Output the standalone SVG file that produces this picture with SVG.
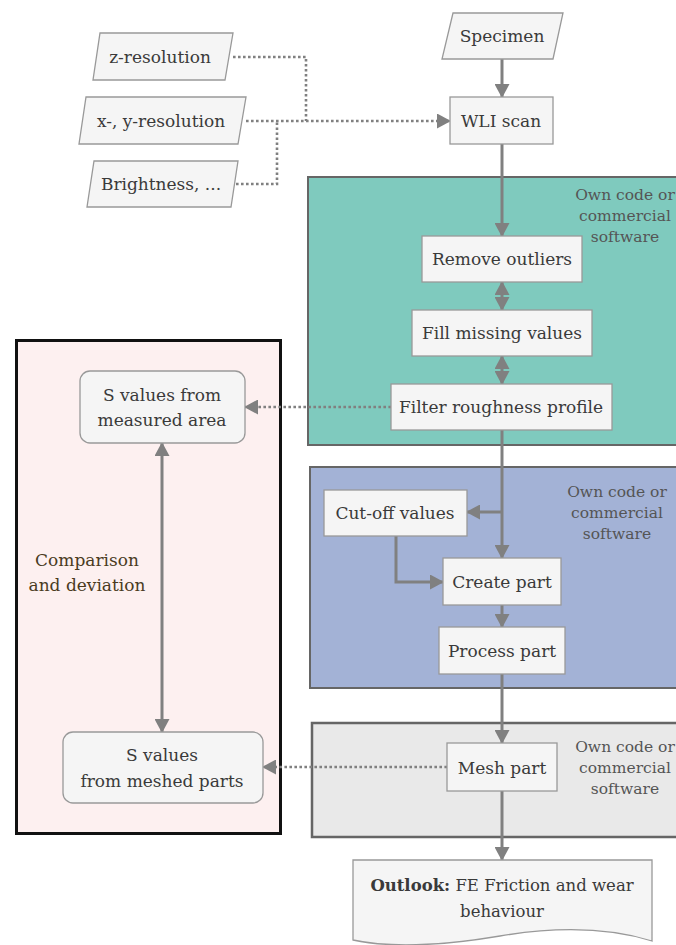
<svg xmlns="http://www.w3.org/2000/svg" width="676" height="945" viewBox="0 0 676 945">
<style>
text{font-family:'DejaVu Serif','Liberation Serif',serif;fill:#3a3a3a;text-anchor:middle}
.n{font-size:17px}
.note{font-size:15.5px;fill:#555}
.node{fill:#f5f5f5;stroke:#999;stroke-width:1.3}
.c{fill:none;stroke:#808080;stroke-width:3}
.d{fill:none;stroke:#808080;stroke-width:2.6;stroke-dasharray:2.6 2.4}
</style>
<defs>
<marker id="a" markerUnits="userSpaceOnUse" markerWidth="15" markerHeight="15" refX="13" refY="7.5" orient="auto-start-reverse" viewBox="0 0 15 15">
<path d="M0,0 L14,7.5 L0,15 z" fill="#808080"/>
</marker>
</defs>

<g id="panel-teal">
<rect x="308" y="177" width="372" height="268" fill="#7fcabe" stroke="#666" stroke-width="2"/>
<text class="note" x="625" y="200">Own code or</text>
<text class="note" x="625" y="221">commercial</text>
<text class="note" x="625" y="242">software</text>
</g>
<g id="panel-blue">
<rect x="310" y="467" width="370" height="221" fill="#a3b2d6" stroke="#666" stroke-width="2"/>
<text class="note" x="617" y="497">Own code or</text>
<text class="note" x="617" y="518">commercial</text>
<text class="note" x="617" y="539">software</text>
</g>
<g id="panel-gray">
<rect x="312" y="723" width="368" height="114" fill="#e9e9e9" stroke="#666" stroke-width="2.5"/>
<text class="note" x="625" y="752">Own code or</text>
<text class="note" x="625" y="773">commercial</text>
<text class="note" x="625" y="794">software</text>
</g>
<g id="panel-pink">
<rect x="16.5" y="340.5" width="264" height="493" fill="#fdf0f0" stroke="#111" stroke-width="3"/>
<text x="87" y="566" style="font-size:17px;fill:#4a3b1e">Comparison</text>
<text x="87" y="591" style="font-size:17px;fill:#4a3b1e">and deviation</text>
</g>

<g id="connectors">
<line class="c" x1="502" y1="59" x2="502" y2="97" marker-end="url(#a)"/>
<line class="c" x1="502" y1="144" x2="502" y2="236" marker-end="url(#a)"/>
<line class="c" x1="502" y1="282" x2="502" y2="310" marker-start="url(#a)" marker-end="url(#a)"/>
<line class="c" x1="502" y1="356" x2="502" y2="384" marker-start="url(#a)" marker-end="url(#a)"/>
<line class="c" x1="502" y1="430" x2="502" y2="558" marker-end="url(#a)"/>
<polyline class="c" points="502,512 467,512" marker-end="url(#a)"/>
<polyline class="c" points="396,536 396,582 443,582" marker-end="url(#a)"/>
<line class="c" x1="502" y1="605" x2="502" y2="627" marker-end="url(#a)"/>
<line class="c" x1="502" y1="674" x2="502" y2="743" marker-end="url(#a)"/>
<line class="c" x1="502" y1="791" x2="502" y2="860" marker-end="url(#a)"/>
<line class="c" x1="162" y1="443" x2="162" y2="732" marker-start="url(#a)" marker-end="url(#a)"/>
<polyline class="d" points="233,57 306,57 306,121"/>
<polyline class="d" points="231,184 277,184 277,121"/>
<line class="d" x1="246" y1="121" x2="450" y2="121" marker-end="url(#a)"/>
<line class="d" x1="391" y1="407" x2="245" y2="407" marker-end="url(#a)"/>
<line class="d" x1="447" y1="767" x2="263" y2="767" marker-end="url(#a)"/>
</g>

<g id="specimen">
<polygon class="node" points="453,13 563,13 553,59 442,59"/>
<text class="n" x="502" y="42">Specimen</text>
</g>
<g id="z-resolution">
<polygon class="node" points="100,33 233,33 225,80 93,80"/>
<text class="n" x="160" y="63">z-resolution</text>
</g>
<g id="xy-resolution">
<polygon class="node" points="86,97 246,97 238,144 79,144"/>
<text class="n" x="161" y="127">x-, y-resolution</text>
</g>
<g id="brightness">
<polygon class="node" points="94,161 238,161 231,207 87,207"/>
<text class="n" x="161" y="190">Brightness, ...</text>
</g>
<g id="wli-scan">
<rect class="node" x="450" y="97" width="103" height="47"/>
<text class="n" x="501" y="127">WLI scan</text>
</g>
<g id="remove-outliers">
<rect class="node" x="422" y="236" width="160" height="46"/>
<text class="n" x="502" y="265">Remove outliers</text>
</g>
<g id="fill-missing">
<rect class="node" x="412" y="310" width="180" height="46"/>
<text class="n" x="502" y="339">Fill missing values</text>
</g>
<g id="filter-roughness">
<rect class="node" x="391" y="384" width="221" height="46"/>
<text class="n" x="501" y="413">Filter roughness profile</text>
</g>
<g id="cut-off">
<rect class="node" x="324" y="490" width="143" height="46"/>
<text class="n" x="395" y="519">Cut-off values</text>
</g>
<g id="create-part">
<rect class="node" x="443" y="558" width="118" height="47"/>
<text class="n" x="502" y="588">Create part</text>
</g>
<g id="process-part">
<rect class="node" x="439" y="627" width="126" height="47"/>
<text class="n" x="502" y="657">Process part</text>
</g>
<g id="mesh-part">
<rect class="node" x="447" y="743" width="110" height="48"/>
<text class="n" x="502" y="774">Mesh part</text>
</g>
<g id="outlook">
<path class="node" d="M353,860 H652 V941 C610,928 560,926 500,936 C440,946 390,948 353,940 Z"/>
<text x="502" y="891" style="font-size:16.5px"><tspan font-weight="bold">Outlook:</tspan> FE Friction and wear</text>
<text x="502" y="917" style="font-size:16.5px">behaviour</text>
</g>
<g id="s-measured">
<rect class="node" x="80" y="371" width="165" height="72" rx="10"/>
<text class="n" x="162" y="401">S values from</text>
<text class="n" x="162" y="426">measured area</text>
</g>
<g id="s-meshed">
<rect class="node" x="63" y="732" width="200" height="71" rx="10"/>
<text class="n" x="162" y="761">S values</text>
<text class="n" x="162" y="787">from meshed parts</text>
</g>
</svg>
